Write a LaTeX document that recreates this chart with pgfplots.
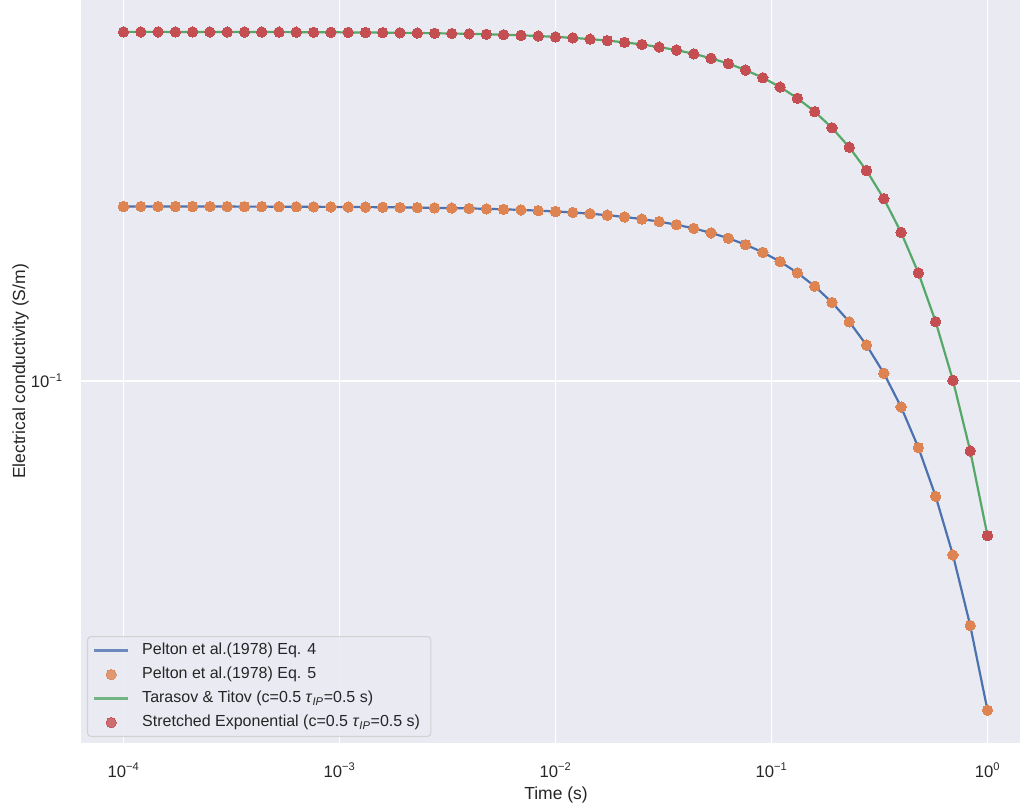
\documentclass[border=0pt]{standalone}
\usepackage{pgfplots}
\usepackage{pgfplotstable}
\pgfplotsset{compat=1.18}
\usepackage{fontspec}
\setmainfont{Liberation Sans}

\definecolor{bgc}{HTML}{EAEAF2}
\definecolor{tc}{HTML}{262626}
\definecolor{cblue}{HTML}{4C72B0}
\definecolor{corange}{HTML}{DD8452}
\definecolor{cgreen}{HTML}{55A868}
\definecolor{cred}{HTML}{C44E52}
\definecolor{lframe}{HTML}{CCCCCC}

\newcommand{\pw}[1]{10\textsuperscript{#1}}
\newcommand{\tauip}{\textit{τ}\textsubscript{\textit{IP}}}

\pgfplotsset{
  lineleg/.style={legend image code/.code={\draw[##1] (0pt,0pt) -- (24.5pt,0pt);}},
  markleg/.style={legend image code/.code={\path[draw=none] (0pt,0pt) (24.5pt,0pt);
      \draw[##1] plot coordinates {(12.25pt,0pt)};}},
}

% conductivity decay: t, stretched model (upper), Pelton model (lower)
\pgfplotstableread{
t up low
1e-4 0.39992 0.19996
1.2023e-4 0.39990 0.19995
1.4454e-4 0.39988 0.19994
1.7378e-4 0.39986 0.19993
2.0893e-4 0.39983 0.19992
2.5119e-4 0.39980 0.19990
3.0200e-4 0.39976 0.19988
3.6308e-4 0.39971 0.19985
4.3652e-4 0.39965 0.19983
5.2481e-4 0.39958 0.19979
6.3096e-4 0.39950 0.19975
7.5858e-4 0.39939 0.19970
9.1201e-4 0.39927 0.19964
1.0965e-3 0.39912 0.19956
1.3183e-3 0.39895 0.19947
1.5849e-3 0.39874 0.19937
1.9055e-3 0.39848 0.19924
2.2909e-3 0.39817 0.19909
2.7542e-3 0.39780 0.19890
3.3113e-3 0.39736 0.19868
3.9811e-3 0.39683 0.19841
4.7863e-3 0.39619 0.19809
5.7544e-3 0.39542 0.19771
6.9183e-3 0.39450 0.19725
8.3176e-3 0.39340 0.19670
1e-2 0.39208 0.19604
1.2023e-2 0.39050 0.19525
1.4454e-2 0.38860 0.19430
1.7378e-2 0.38634 0.19317
2.0893e-2 0.38363 0.19182
2.5119e-2 0.38040 0.19020
3.0200e-2 0.37656 0.18828
3.6308e-2 0.37198 0.18599
4.3652e-2 0.36656 0.18328
5.2481e-2 0.36014 0.18007
6.3096e-2 0.35258 0.17629
7.5858e-2 0.34369 0.17185
9.1201e-2 0.33331 0.16665
1.0965e-1 0.32123 0.16062
1.3183e-1 0.30730 0.15365
1.5849e-1 0.29134 0.14567
1.9055e-1 0.27325 0.13662
2.2909e-1 0.25298 0.12649
2.7542e-1 0.23059 0.11529
3.3113e-1 0.20627 0.10314
3.9811e-1 0.18041 0.090204
4.7863e-1 0.15358 0.076788
5.7544e-1 0.12654 0.063272
6.9183e-1 0.10026 0.050130
8.3176e-1 0.075784 0.037892
1 0.054134 0.027067
}\datatable

\begin{document}
\begin{tikzpicture}
\begin{axis}[
  at={(0pt,0pt)}, anchor=south west,
  scale only axis, width=676.08pt, height=534.96pt,
  xmode=log, ymode=log,
  xmin=6.356e-5, xmax=1.4141, ymin=0.02376, ymax=0.4538,
  axis background/.style={fill=bgc},
  axis line style={draw=none},
  grid=major,
  major grid style={white, line width=1.05pt},
  xtick={1e-4,1e-3,1e-2,1e-1,1},
  xticklabels={\pw{−4},\pw{−3},\pw{−2},\pw{−1},\pw{0}},
  ytick={0.1}, yticklabels={\pw{−1}},
  xminorticks=false, yminorticks=false,
  major tick length=0pt, minor tick length=0pt,
  tick label style={font=\fontsize{12}{14}\selectfont, text=tc, inner sep=0pt},
  xticklabel style={anchor=base, yshift=-24.48pt},
  yticklabel style={anchor=east, xshift=-12.96pt},
  xlabel={Time (s)}, ylabel={Electrical conductivity (S/m)},
  label style={font=\fontsize{12.6}{15}\selectfont, text=tc, inner sep=0pt},
  xlabel style={at={(axis description cs:0.5059,-0.0754)}, anchor=base},
  ylabel style={at={(axis description cs:-0.0596,0.5)}, anchor=base},
  legend style={
    at={(axis description cs:0.00639,0.00808)}, anchor=south west,
    fill=bgc, fill opacity=0.8, draw opacity=0.8, text opacity=1,
    draw=lframe, line width=0.8pt, rounded corners=2.5pt,
    font=\fontsize{11.52}{13.8}\selectfont, text=tc,
    inner xsep=4pt, inner ysep=3pt,
    column sep=5.5pt, row sep=3.28pt,
    nodes={inner xsep=3.8pt, inner ysep=1.5pt, text height=8.5pt, text depth=2.5pt},
  },
  legend cell align=left,
  every axis plot/.append style={line width=1.58pt},
]
\addplot[cblue, no markers, lineleg] table[x=t, y=low] {\datatable};
\addlegendentry{Pelton et al.(1978) Eq. 4}
\addplot[corange, only marks, mark=*, mark size=3.75pt,
  mark options={line width=0pt, draw=corange, fill=corange}, markleg]
  table[x=t, y=low] {\datatable};
\addlegendentry{Pelton et al.(1978) Eq. 5}
\addplot[cgreen, no markers, lineleg] table[x=t, y=up] {\datatable};
\addlegendentry{Tarasov \& Titov (c=0.5 \tauip=0.5 s)}
\addplot[cred, only marks, mark=*, mark size=3.75pt,
  mark options={line width=0pt, draw=cred, fill=cred}, markleg]
  table[x=t, y=up] {\datatable};
\addlegendentry{Stretched Exponential (c=0.5 \tauip=0.5 s)}
\end{axis}
\pgfresetboundingbox
\path[use as bounding box] (-58.32pt,-46.8pt) rectangle (676.08pt,534.96pt);
\end{tikzpicture}
\end{document}
